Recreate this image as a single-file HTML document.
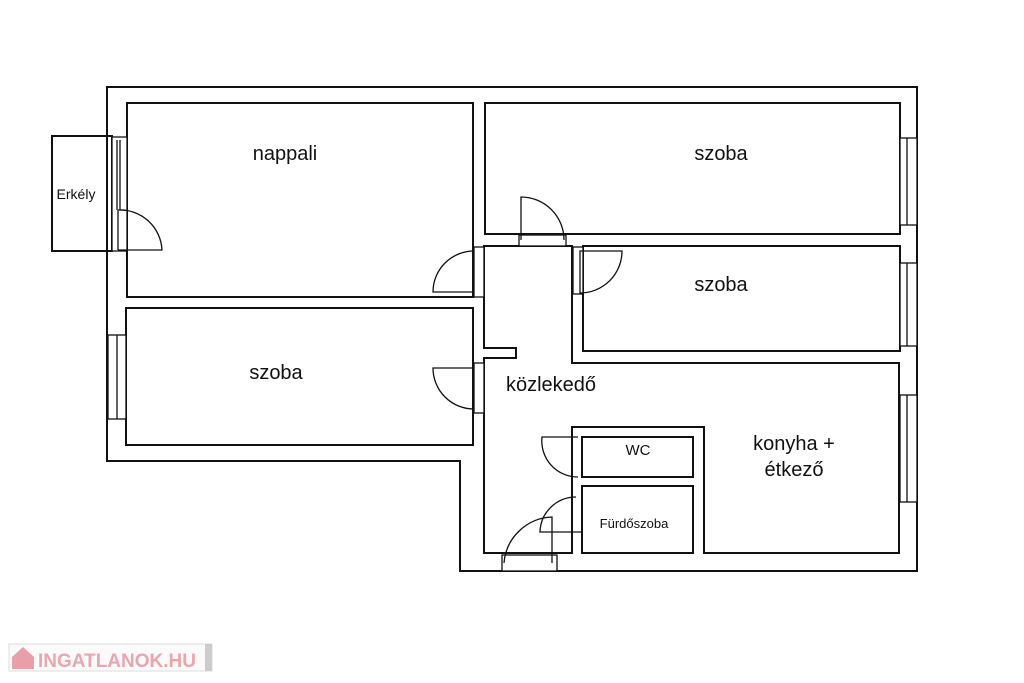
<!DOCTYPE html>
<html><head><meta charset="utf-8"><style>
body{margin:0;background:#fff;}
svg{display:block}
text{font-family:"Liberation Sans",sans-serif;fill:#111}
</style></head><body>
<svg width="1024" height="683" viewBox="0 0 1024 683" xmlns="http://www.w3.org/2000/svg">
<g fill="none" stroke="#111" stroke-width="2">
<!-- outer -->
<polygon points="107,87 917,87 917,571 460,571 460,461 107,461"/>
<!-- rooms -->
<rect x="127" y="103" width="346" height="194"/>
<rect x="126" y="308" width="347" height="137"/>
<rect x="485" y="103" width="415" height="131"/>
<rect x="583" y="246" width="317" height="105"/>
<polygon points="484,246 572,246 572,363 899,363 899,553 704,553 704,427 572,427 572,553 484,553 484,358 516,358 516,348 484,348"/>
<rect x="582" y="437" width="111" height="40"/>
<rect x="582" y="486" width="111" height="67"/>
<rect x="52" y="136" width="60" height="115"/>
</g>
<g fill="none" stroke="#111" stroke-width="1.3">
<!-- balcony door/window -->
<rect x="112" y="137" width="15" height="114" fill="#fff"/>
<line x1="117" y1="140" x2="117" y2="210"/><line x1="120" y1="140" x2="120" y2="210"/>
<line x1="118" y1="210" x2="118" y2="250"/>
<path d="M118,210 A42,42 0 0 1 162,250 L118,250"/>
<!-- nappali door -->
<rect x="474" y="247" width="10" height="50" fill="#fff"/>
<path d="M474,292 L433,292 A41,41 0 0 1 474,251"/>
<!-- szoba left door -->
<rect x="474" y="363" width="10" height="50" fill="#fff"/>
<path d="M474,368 L433,368 A41,41 0 0 0 474,409"/>
<!-- top szoba door -->
<rect x="519" y="235" width="47" height="11" fill="#fff"/>
<path d="M521,240 L521,197 A43,43 0 0 1 564,240"/>
<!-- mid szoba door -->
<rect x="573" y="247" width="10" height="47" fill="#fff"/>
<path d="M580,294 L580,251 L622,251 A42,42 0 0 1 580,293"/>
<!-- wc door -->
<path d="M578,437 L542,437 A36,36 0 0 0 578,477"/>
<!-- bath door -->
<path d="M576,497 A36,36 0 0 0 540,532 L582,532"/>
<!-- entrance -->
<rect x="502" y="555" width="55" height="16" fill="#fff"/>
<path d="M504,563 A50,50 0 0 1 552,517 L552,563"/>
<!-- windows -->
<rect x="900" y="138" width="17" height="87" fill="#fff"/><line x1="907" y1="138" x2="907" y2="225"/>
<rect x="900" y="263" width="17" height="83" fill="#fff"/><line x1="907" y1="263" x2="907" y2="346"/>
<rect x="900" y="395" width="17" height="107" fill="#fff"/><line x1="907" y1="395" x2="907" y2="502"/>
<rect x="108" y="335" width="18" height="84" fill="#fff"/><line x1="117" y1="335" x2="117" y2="419"/>
</g>
<text x="285" y="160" font-size="20" text-anchor="middle">nappali</text>
<text x="76" y="199" font-size="14" text-anchor="middle">Erkély</text>
<text x="276" y="379" font-size="20" text-anchor="middle">szoba</text>
<text x="721" y="160" font-size="20" text-anchor="middle">szoba</text>
<text x="721" y="291" font-size="20" text-anchor="middle">szoba</text>
<text x="551" y="391" font-size="20" text-anchor="middle">közlekedő</text>
<text x="638" y="455" font-size="15" text-anchor="middle">WC</text>
<text x="634" y="528" font-size="13" text-anchor="middle">Fürdőszoba</text>
<text x="794" y="450" font-size="20" text-anchor="middle">konyha +</text>
<text x="794" y="476" font-size="20" text-anchor="middle">étkező</text>
<rect x="9" y="644" width="203" height="27" fill="#fafafa" stroke="#ddd"/>
<rect x="205" y="644" width="7" height="27" fill="#ccc"/>
<path d="M12,657 L23,647 L34,657 L34,669 L12,669 Z" fill="#e8a0a8"/>
<text x="38" y="667" font-size="19" font-weight="bold" style="fill:#eba6ad">INGATLANOK.HU</text>
</svg>
</body></html>
